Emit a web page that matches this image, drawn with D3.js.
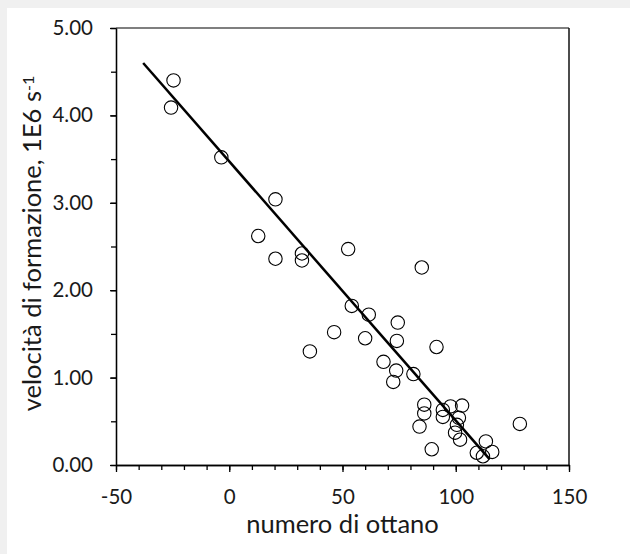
<!DOCTYPE html>
<html>
<head>
<meta charset="utf-8">
<script src="https://cdn.jsdelivr.net/npm/d3@7"></script>
<style>
  body { margin: 0; background: #f0f0f0; }
  svg { display: block; }
  .axis text { font-family: Lato, "Open Sans", sans-serif; font-size: 20.5px; fill: #1a1a1a; }
  .axis path, .axis line { stroke: #000; stroke-width: 1.3; }
  .title { font-family: Lato, "Open Sans", sans-serif; font-size: 25.5px; fill: #1a1a1a; }
</style>
</head>
<body>
<svg width="630" height="554"></svg>
<script>
// numero di ottano vs velocita di formazione (1E6 s-1)
var octane = [-24.6, -25.7, -3.5, 20.4, 12.8, 20.4, 32.1, 32.1, 52.5, 85.0,
              54.1, 61.6, 74.4, 46.3, 60.0, 74.0, 91.5, 35.6, 68.1, 73.7,
              72.4, 81.3, 86.1, 86.1, 84.0, 94.3, 94.3, 97.7, 102.8, 101.4,
              100.5, 99.7, 101.9, 89.4, 113.3, 109.3, 112.0, 116.1, 128.3];
var rate = [4.40, 4.09, 3.52, 3.04, 2.62, 2.36, 2.42, 2.34, 2.47, 2.26,
            1.82, 1.72, 1.63, 1.52, 1.45, 1.42, 1.35, 1.30, 1.18, 1.08,
            0.95, 1.04, 0.69, 0.59, 0.44, 0.63, 0.55, 0.67, 0.68, 0.54,
            0.46, 0.37, 0.29, 0.18, 0.27, 0.14, 0.10, 0.15, 0.47];

// linea di tendenza
var fitX = [-38, 115];
var fitY = [4.60, 0.065];

var xTicks = [-50, 0, 50, 100, 150];
var yTicks = [0, 1, 2, 3, 4, 5];

var svg = d3.select("svg");
var W = 630, H = 554;
var margin = {top: 28, right: 61, bottom: 89, left: 116};
var width = W - margin.left - margin.right;
var height = H - margin.top - margin.bottom;

svg.append("rect").attr("width", W).attr("height", H).attr("fill", "#f0f0f0");
svg.append("rect").attr("x", 7).attr("y", 8).attr("width", W - 7).attr("height", H - 8).attr("fill", "#fff");

var x = d3.scaleLinear().domain([-50, 150]).range([0, width]);
var y = d3.scaleLinear().domain([0, 5]).range([height, 0]);

var g = svg.append("g").attr("transform", "translate(" + margin.left + "," + margin.top + ")");

// cornice in alto e a destra
g.append("line").attr("x1", 0).attr("x2", width).attr("y1", 0).attr("y2", 0)
  .attr("stroke", "#555").attr("stroke-width", 1.5);
g.append("line").attr("x1", width).attr("x2", width).attr("y1", 0).attr("y2", height)
  .attr("stroke", "#111").attr("stroke-width", 1.5);

// tacche secondarie
g.append("g").attr("class", "axis").attr("transform", "translate(0," + height + ")")
  .call(d3.axisBottom(x).tickValues(d3.range(-50, 151, 10)).tickSize(5).tickFormat("").tickSizeOuter(0));
g.append("g").attr("class", "axis")
  .call(d3.axisLeft(y).tickValues(d3.range(0, 5.01, 0.5)).tickSize(5).tickFormat("").tickSizeOuter(0));

g.append("g").attr("class", "axis").attr("transform", "translate(0," + height + ")")
  .call(d3.axisBottom(x).tickValues(xTicks).tickSize(7).tickPadding(17).tickSizeOuter(0)
    .tickFormat(function(d) { return String(d); }));
g.append("g").attr("class", "axis")
  .call(d3.axisLeft(y).tickValues(yTicks).tickSize(6).tickPadding(17).tickFormat(d3.format(".2f")).tickSizeOuter(0));

g.selectAll(".pt")
  .data(octane)
  .enter().append("circle")
  .attr("class", "pt")
  .attr("cx", function(d) { return x(d); })
  .attr("cy", function(d, i) { return y(rate[i]); })
  .attr("r", 6.7)
  .attr("fill", "none")
  .attr("stroke", "#000")
  .attr("stroke-width", 1.1);

g.append("path")
  .datum(d3.zip(fitX, fitY))
  .attr("fill", "none")
  .attr("stroke", "#000")
  .attr("stroke-width", 2.5)
  .attr("d", d3.line().x(function(d) { return x(d[0]); }).y(function(d) { return y(d[1]); }));

svg.append("text")
  .attr("class", "title")
  .attr("x", margin.left + width / 2)
  .attr("y", 533)
  .attr("text-anchor", "middle")
  .text("numero di ottano");

var yl = svg.append("text")
  .attr("class", "title")
  .attr("transform", "translate(41," + (margin.top + height / 2 - 3) + ") rotate(-90)")
  .attr("text-anchor", "middle");
yl.append("tspan").text("velocità di formazione, 1E6 s");
yl.append("tspan").attr("dy", "-0.45em").style("font-size", "16px").text("-1");
</script>
</body>
</html>
